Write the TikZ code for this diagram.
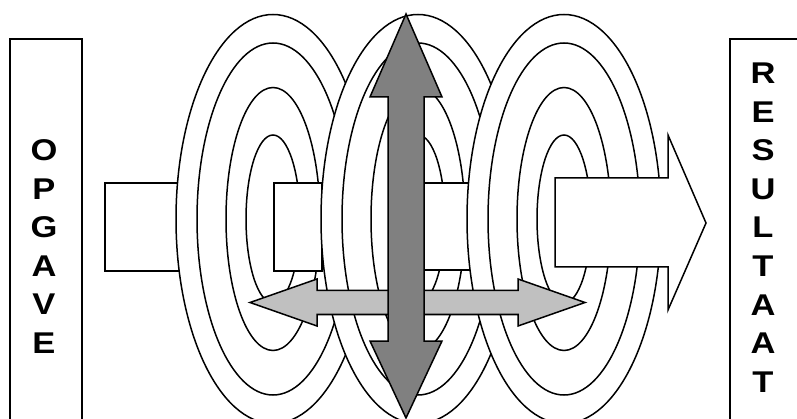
\documentclass[tikz,border=0pt]{standalone}
\usepackage{fontspec}
\setmainfont{Liberation Sans}
\newfontfamily\labfont[FakeStretch=1.15]{Liberation Sans}
\definecolor{darkarrow}{HTML}{808080}
\definecolor{lightarrow}{HTML}{C0C0C0}
\newcommand\ringset[1]{%
  \foreach \ra/\rb in {97/204.5,76/176,47/131.5,27/84}{%
    \draw[ring] (#1,219) ellipse [x radius=\ra pt, y radius=\rb pt];}}
\begin{document}
\begin{tikzpicture}[x=1pt,y=-1pt,line width=1.5pt,line join=miter,
  ring/.style={draw=black,fill=white},
  piece/.style={draw=black,fill=white},
  lettering/.style={font=\labfont\bfseries\fontsize{30}{38.6}\selectfont,align=center,inner sep=0pt}]
\useasboundingbox (0,0) rectangle (797,419);
\clip (0,0) rectangle (797,419);
\fill[white] (0,0) rectangle (797,419);
% side boxes
\draw[piece] (10,39) rectangle (82,440);
\node[lettering] (opgave) at (44,246.5) {O\\P\\G\\A\\V\\E};
\draw[piece] (730,39) rectangle (820,440);
\node[lettering] (resultaat) at (763,227.5) {R\\E\\S\\U\\L\\T\\A\\A\\T};
% woven main arrow and ring sets
\draw[piece] (105,183) rectangle (200,271);
\ringset{273}
\draw[piece] (274,183) rectangle (322,271);
\ringset{418}
\draw[piece] (400,183) rectangle (472,270);
\ringset{564}
\draw[piece] (555,178) -- (668,178) -- (668,135) -- (706,223) -- (668,310)
  -- (668,267) -- (555,267) -- cycle;
% light grey horizontal double arrow
\draw[fill=lightarrow] (250,302.5) -- (317,279) -- (317,290.5) -- (518,290.5)
  -- (518,279) -- (585,302.5) -- (518,326) -- (518,314.5) -- (317,314.5)
  -- (317,326) -- cycle;
% dark grey vertical double arrow
\draw[fill=darkarrow] (406,14) -- (442,97) -- (424,97) -- (424,341) -- (442,341)
  -- (406,418) -- (370,341) -- (388,341) -- (388,97) -- (370,97) -- cycle;
\end{tikzpicture}
\end{document}
